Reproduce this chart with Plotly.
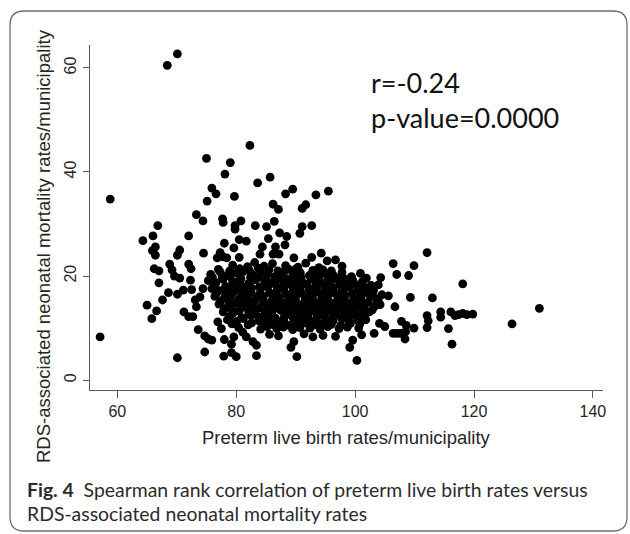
import plotly.graph_objects as go

# ---------------- data ----------------
x_ticks = [60, 80, 100, 120, 140]
y_ticks = [0, 20, 40, 60]

# sparse points above the main cloud
upper_x = [70.1, 68.4, 82.3, 75.0, 79.0, 78.1, 83.6, 85.7, 58.8, 75.9, 76.6, 75.1, 79.7, 88.3, 86.2, 87.1, 73.3, 93.4, 89.5, 95.5, 91.7, 91.1,
           74.4, 77.7, 77.8, 79.8, 80.8, 79.8, 83.2, 85.1, 86.4, 92.7, 91.1, 90.7, 87.3, 88.5, 85.4, 66.8, 66.0, 64.3, 72.0, 80.5, 81.7, 78.0, 79.6,
           66.4, 65.9, 66.4, 70.5, 70.1, 74.5, 77.3, 77.8, 76.8, 78.4, 80.5, 84.4, 86.6, 88.2, 84.0, 86.2, 87.2, 89.7, 92.7, 94.3, 95.3, 96.7, 112.1]
upper_y = [62.7, 60.5, 45.1, 42.6, 41.8, 39.6, 37.9, 39.0, 34.8, 36.9, 35.8, 34.4, 35.3, 35.8, 33.8, 32.8, 31.8, 35.6, 36.7, 36.3, 33.7, 33.0,
           30.6, 31.0, 30.3, 29.7, 30.6, 29.0, 29.7, 29.5, 30.5, 29.7, 29.5, 28.2, 28.3, 27.6, 27.2, 29.7, 27.7, 26.8, 27.7, 27.0, 26.7, 26.3, 25.4,
           25.6, 24.9, 24.0, 25.0, 24.0, 24.4, 24.5, 23.7, 23.5, 23.5, 23.6, 25.6, 25.6, 26.0, 24.2, 24.2, 24.2, 23.5, 23.6, 24.4, 22.9, 23.1, 24.5]

# left-hand group
left_x = [66.2, 67.0, 69.2, 72.4, 69.6, 70.5, 72.3, 67.0, 68.6, 70.1, 71.1, 67.6, 65.0, 66.6, 65.8, 72.5, 74.4, 73.1, 73.9, 73.3,
          71.2, 72.0, 72.7, 73.6, 74.7, 75.3, 75.9, 74.7, 57.1, 70.1, 68.8, 72.0]
left_y = [21.4, 21.0, 21.2, 21.4, 20.0, 19.6, 19.2, 18.7, 16.8, 16.5, 17.3, 15.4, 14.4, 13.3, 11.8, 17.4, 17.6, 15.4, 16.0, 14.1,
          13.1, 12.2, 12.2, 9.7, 8.5, 7.9, 7.7, 5.4, 8.3, 4.3, 22.3, 22.3]

# low points under the cloud
low_x = [77.9, 79.2, 79.2, 80.0, 78.0, 79.6, 82.6, 81.1, 81.7, 82.8, 83.4, 83.4, 100.3, 90.2, 89.2, 89.7, 99.1, 99.6, 92.9]
low_y = [4.6, 6.9, 5.3, 4.5, 7.8, 8.3, 11.0, 9.2, 8.3, 7.4, 6.7, 4.7, 3.8, 4.5, 6.3, 7.4, 6.3, 7.7, 8.3]

# right-hand tail
right_x = [106.4, 109.9, 107.0, 109.0, 104.3, 103.9, 109.3, 106.7, 105.6, 104.5, 107.8, 108.6, 109.9, 108.5, 108.4, 99.4, 118.1, 113.0, 131.0, 126.4,
           112.1, 112.3, 114.4, 114.4, 116.1, 116.8, 117.4, 118.1, 118.8, 119.8, 112.1, 115.7, 116.3, 107.6, 104.1, 105.0, 106.4, 103.2, 107.0]
right_y = [22.4, 22.0, 20.3, 20.1, 19.7, 18.3, 15.9, 14.1, 16.2, 16.4, 11.3, 10.5, 10.0, 9.3, 7.9, 19.9, 18.5, 15.8, 13.8, 10.8,
           12.4, 11.4, 13.1, 12.1, 13.1, 12.4, 12.6, 12.8, 12.6, 12.7, 10.1, 9.9, 6.9, 9.0, 10.9, 10.3, 9.0, 9.0, 9.0]

# dense core of the cloud (estimated)
core_x = [79.4, 81.9, 83.1, 84.7, 86.1, 88.3, 90.4, 91.7, 93.9, 97.8,
          75.7, 77.3, 78.5, 80.1, 81.2, 82.8, 84.1, 85.3, 86.9, 88.0, 89.6, 90.8, 92.3, 93.5, 95.1, 96.3, 97.8, 100.9,
          75.3, 76.6, 77.8, 79.4, 80.5, 82.1, 83.2, 84.8, 86.0, 87.5, 88.7, 90.3, 91.4, 93.0, 94.2, 95.7, 96.9, 98.5, 99.6, 101.2,
          75.9, 77.1, 78.7, 79.9, 81.4, 82.6, 84.1, 85.3, 86.9, 88.0, 89.6, 90.8, 92.3, 93.5, 95.1, 96.3, 97.8, 99.0, 100.5, 101.7, 103.1,
          76.4, 78.0, 79.2, 80.7, 81.9, 83.4, 84.6, 86.2, 87.3, 88.9, 90.1, 91.6, 92.8, 94.4, 95.5, 97.1, 98.3, 99.8, 101.0, 102.6, 103.5,
          77.1, 78.7, 79.9, 81.4, 82.6, 84.1, 85.3, 86.9, 88.0, 89.6, 90.8, 92.3, 93.5, 95.1, 96.3, 97.8, 99.0, 100.5, 101.7, 103.3, 104.2,
          77.8, 79.4, 80.5, 82.1, 83.2, 84.8, 86.0, 87.5, 88.7, 90.3, 91.4, 93.0, 94.2, 95.7, 96.9, 98.5, 99.6, 101.2, 102.4,
          76.9, 78.5, 80.1, 81.2, 83.8, 85.3, 86.9, 88.0, 89.6, 90.8, 92.3, 93.5, 95.1, 96.3, 97.8, 99.0, 100.5, 101.8,
          77.5, 80.4, 84.1, 85.2, 86.8, 87.9, 89.5, 90.7, 92.4, 94.1, 95.4, 97.3, 98.7, 100.6,
          85.6, 87.1, 91.4, 94.6, 96.7, 101.1]
core_y = [22.1, 21.8, 22.6, 21.9, 22.4, 22.0, 21.7, 22.5, 21.6, 21.9,
          20.3, 20.8, 20.1, 20.6, 20.9, 20.2, 20.7, 20.4, 20.0, 20.8, 20.3, 20.6, 20.1, 20.9, 20.4, 20.2, 20.7, 20.5,
          19.1, 18.7, 19.4, 18.9, 19.2, 18.6, 19.3, 19.0, 18.8, 19.4, 18.9, 19.1, 18.6, 19.3, 18.8, 19.0, 19.4, 18.7, 19.2, 18.9,
          17.6, 17.2, 17.8, 17.4, 17.1, 17.7, 17.5, 17.9, 17.3, 17.6, 17.2, 17.8, 17.4, 17.5, 17.1, 17.7, 17.3, 17.9, 17.4, 17.6, 17.2,
          16.1, 15.8, 16.3, 15.9, 16.2, 15.7, 16.1, 16.4, 15.8, 16.0, 16.3, 15.7, 16.1, 15.9, 16.4, 15.8, 16.2, 15.9, 16.0, 16.3, 15.7,
          14.6, 14.3, 14.8, 14.4, 14.7, 14.2, 14.5, 14.9, 14.3, 14.6, 14.2, 14.7, 14.4, 14.8, 14.5, 14.3, 14.7, 14.4, 14.6, 14.2, 14.5,
          13.1, 12.8, 13.3, 12.9, 13.2, 12.7, 13.0, 13.4, 12.8, 13.1, 12.7, 13.2, 12.9, 13.3, 12.8, 13.0, 13.2, 12.7, 13.1,
          11.2, 11.6, 11.3, 11.8, 11.4, 11.7, 11.2, 11.5, 11.9, 11.3, 11.6, 11.2, 11.7, 11.4, 11.8, 11.3, 11.5, 11.6,
          9.9, 10.1, 9.8, 10.3, 9.9, 10.2, 9.7, 10.1, 10.0, 9.8, 10.3, 9.9, 10.2, 10.0,
          8.8, 8.5, 8.9, 8.6, 8.4, 8.7]

# more points packed between the rows of the dense core (estimated)
core2_x = [77.0, 78.9, 80.6, 82.2, 83.7, 85.5, 87.0, 88.9, 90.1, 92.9, 94.6, 96.0,
           76.0, 77.6, 79.0, 80.8, 82.4, 83.6, 85.0, 86.5, 88.2, 89.4, 90.9, 92.6, 93.9, 95.4, 96.6, 98.1, 99.3, 101.9,
           76.3, 78.2, 79.5, 80.9, 82.2, 83.9, 85.0, 86.6, 87.9, 89.2, 90.6, 91.9, 93.3, 94.8, 96.0, 97.4, 98.6, 100.0, 101.4, 102.7,
           76.7, 78.3, 79.6, 81.1, 82.5, 83.9, 85.6, 86.8, 88.3, 89.5, 91.0, 92.4, 93.8, 95.0, 96.7, 98.0, 99.5, 100.9, 102.2,
           77.4, 78.9, 80.4, 81.7, 83.0, 84.6, 85.9, 87.4, 88.6, 90.0, 91.5, 92.9, 94.0, 95.6, 96.9, 98.2, 99.5, 100.9, 102.2, 103.9,
           78.0, 79.3, 80.9, 82.1, 83.7, 84.9, 86.3, 87.8, 89.0, 90.4, 91.9, 93.1, 94.6, 95.9, 97.3, 98.6, 100.0, 101.3, 102.9,
           78.9, 80.9, 82.5, 83.8, 85.2, 86.6, 88.1, 89.3, 90.7, 92.0, 93.6, 94.8, 96.2, 97.6, 98.9, 100.2, 101.6,
           79.3, 82.0, 84.6, 86.1, 87.6, 88.9, 90.2, 91.6, 93.1, 94.6, 96.0, 97.6, 99.2, 100.8]
core2_y = [21.3, 21.0, 21.4, 21.1, 21.5, 21.2, 21.0, 21.3, 21.4, 21.1, 21.2, 21.0,
           19.8, 19.6, 19.9, 19.5, 19.8, 19.7, 19.5, 19.9, 19.6, 19.8, 19.7, 19.5, 19.9, 19.6, 19.8, 19.5, 19.7, 19.6,
           18.2, 18.0, 18.4, 18.1, 18.3, 17.9, 18.2, 18.4, 18.0, 18.3, 18.1, 18.4, 17.9, 18.2, 18.0, 18.3, 18.1, 18.4, 18.0, 18.2,
           16.8, 16.6, 17.0, 16.7, 16.9, 16.5, 16.8, 17.0, 16.6, 16.9, 16.7, 16.5, 16.9, 16.8, 16.6, 17.0, 16.7, 16.9, 16.6,
           15.2, 15.0, 15.4, 15.1, 15.3, 14.9, 15.2, 15.4, 15.0, 15.3, 15.1, 15.4, 14.9, 15.2, 15.0, 15.3, 15.1, 15.4, 15.0, 15.2,
           13.7, 13.5, 13.9, 13.6, 13.8, 13.4, 13.7, 13.9, 13.5, 13.8, 13.6, 13.4, 13.8, 13.7, 13.5, 13.9, 13.6, 13.8, 13.5,
           12.2, 12.0, 12.4, 12.1, 12.3, 11.9, 12.2, 12.4, 12.0, 12.3, 12.1, 12.4, 11.9, 12.2, 12.0, 12.3, 12.1,
           10.8, 10.6, 11.0, 10.7, 10.9, 10.5, 10.8, 11.0, 10.6, 10.9, 10.7, 10.5, 10.9, 10.8]

preterm_rate = upper_x + left_x + low_x + right_x + core_x + core2_x
rds_mortality = upper_y + left_y + low_y + right_y + core_y + core2_y

# ---------------- figure ----------------
W, H = 630, 534
PL, PR, PT, PB = 90, 603, 45, 390   # plot area in pixels


def paper(px, py):
    return (px - PL) / (PR - PL), (PB - py) / (PB - PT)


fig = go.Figure()
fig.add_trace(go.Scatter(
    x=preterm_rate, y=rds_mortality, mode="markers",
    marker=dict(color="black", size=8.8, line=dict(width=0)),
    showlegend=False, hoverinfo="x+y"))

axis_font = dict(family="Liberation Sans, Arial, sans-serif", size=16, color="#262626")
fig.update_xaxes(range=[55.4, 141.7], tickvals=x_ticks, showgrid=False, zeroline=False,
                 showline=True, linecolor="#5a5a5a", linewidth=1.3,
                 ticks="outside", ticklen=7, tickwidth=1.3, tickcolor="#5a5a5a",
                 tickfont=axis_font)
fig.update_yaxes(range=[-1.9, 64.4], tickvals=y_ticks, showgrid=False, zeroline=False,
                 showline=True, linecolor="#5a5a5a", linewidth=1.3,
                 ticks="outside", ticklen=6, tickwidth=1.3, tickcolor="#5a5a5a",
                 tickfont=axis_font, tickangle=-90)

# rounded frame around the whole figure
L, R, T, B, r = 10, 627, 11, 531, 14


def P(px, py):
    a, b = paper(px, py)
    return f"{a:.5f},{b:.5f}"


path = (f"M {P(L + r, T)} L {P(R - r, T)} Q {P(R, T)} {P(R, T + r)} "
        f"L {P(R, B - r)} Q {P(R, B)} {P(R - r, B)} "
        f"L {P(L + r, B)} Q {P(L, B)} {P(L, B - r)} "
        f"L {P(L, T + r)} Q {P(L, T)} {P(L + r, T)} Z")
fig.add_shape(type="path", path=path, xref="paper", yref="paper",
              line=dict(color="#6e6e6e", width=1.3), fillcolor="rgba(0,0,0,0)", layer="below")

annotations = []
title_font = dict(family="Liberation Sans, Arial, sans-serif", size=18.5, color="#262626")
ax, ay = paper(346, 437)
annotations.append(dict(text="Preterm live birth rates/municipality", x=ax, y=ay, xref="paper", yref="paper",
                        showarrow=False, xanchor="center", yanchor="middle", font=title_font))
ax, ay = paper(43, 246)
annotations.append(dict(text="RDS-associated neonatal mortality rates/municipality", x=ax, y=ay, xref="paper", yref="paper",
                        showarrow=False, xanchor="center", yanchor="middle", textangle=-90, font=title_font))
# statistics
stat_font = dict(family="Lato, sans-serif", size=27, color="#111111")
ax, ay = paper(369, 83)
annotations.append(dict(text="r=-0.24", x=ax, y=ay, xref="paper", yref="paper", showarrow=False,
                        xanchor="left", yanchor="middle", font=stat_font))
ax, ay = paper(369, 118)
annotations.append(dict(text="p-value=0.0000", x=ax, y=ay, xref="paper", yref="paper", showarrow=False,
                        xanchor="left", yanchor="middle", font=stat_font))
# caption
cap_font = dict(family="Lato, sans-serif", size=19.4, color="#2b2b2b")
ax, ay = paper(25, 489)
annotations.append(dict(text="<b>Fig. 4</b>\u00a0\u00a0Spearman rank correlation of preterm live birth rates versus",
                        x=ax, y=ay, xref="paper", yref="paper", showarrow=False,
                        xanchor="left", yanchor="middle", font=cap_font))
ax, ay = paper(25, 513)
annotations.append(dict(text="RDS-associated neonatal mortality rates",
                        x=ax, y=ay, xref="paper", yref="paper", showarrow=False,
                        xanchor="left", yanchor="middle", font=cap_font))

fig.update_layout(width=W, height=H, autosize=False,
                  margin=dict(l=PL, r=W - PR, t=PT, b=H - PB, pad=0),
                  paper_bgcolor="white", plot_bgcolor="white",
                  annotations=annotations, showlegend=False)

fig.write_html("out.html", config={"displayModeBar": False},
               post_script="document.body.style.margin='0';document.body.style.overflow='hidden';")
